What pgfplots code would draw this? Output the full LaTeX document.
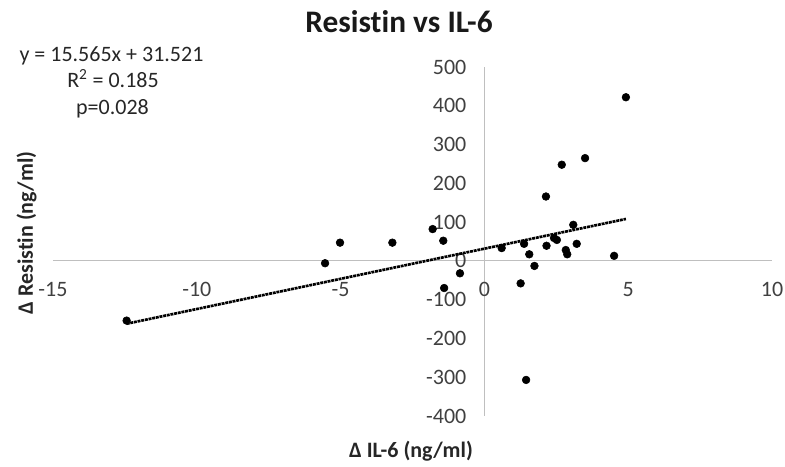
\documentclass[border=0pt]{standalone}
\usepackage{pgfplots}
\pgfplotsset{compat=1.18}
\usepackage{fontspec}
\setmainfont{Carlito}[Ligatures=NoCommon]
\definecolor{ticktext}{RGB}{64,64,64}
\definecolor{axisgray}{RGB}{191,191,191}
\begin{document}
\begin{tikzpicture}
% page = 785 x 467 px, 1 px = 0.75pt
\path[use as bounding box] (0,0) rectangle (588.75pt,350.25pt);
\begin{axis}[
  at={(39.75pt,38.25pt)}, anchor=south west,
  scale only axis, width=539.25pt, height=261.75pt,
  xmin=-15, xmax=10, ymin=-400, ymax=500,
  axis lines=middle,
  axis line style={-, draw=axisgray, line width=0.75pt},
  xtick={-15,-10,-5,0,5,10}, xticklabels={-15,-10,-5,0,5,10},
  ytick={-400,-300,-200,-100,0,100,200,300,400,500},
  yticklabels={-400,-300,-200,-100,0,100,200,300,400,500},
  major tick length=0pt,
  hide obscured x ticks=false, hide obscured y ticks=false,
  tick label style={font=\fontsize{16.5}{18}\selectfont, text=ticktext},
  xticklabel style={anchor=north, yshift=-12.5pt},
  yticklabel style={anchor=east, xshift=-10pt},
  clip=false,
]
\addplot[only marks, mark=*, mark size=2.9pt, black] coordinates {
  (-12.44,-154) (-5.54,-6) (-5.02,47) (-3.20,47) (-1.80,82) (-1.43,52)
  (-0.85,-32) (-1.40,-70) (0.60,33) (1.38,44) (1.56,17) (1.74,-13)
  (1.26,-58) (2.16,39) (2.42,59) (2.52,54) (2.83,28) (2.88,17)
  (3.09,93) (3.21,44) (4.51,13) (2.14,166) (2.69,248) (3.50,265)
  (4.92,422) (1.45,-307)
};
% linear trendline y = 15.565x + 31.521
\addplot[black, line width=2pt, dash pattern=on 2.2pt off 0.6pt] coordinates {
  (-12.44,-162.1) (4.92,108.1)
};
\end{axis}
\node[anchor=base, font=\fontsize{23.5}{28}\selectfont\bfseries, text=black!90] at (299.25pt,325.5pt) {Resistin vs IL-6};
\node[anchor=base, font=\fontsize{16.5}{18}\selectfont, text=black!85] at (83.6pt,303.75pt) {y = 15.565x + 31.521};
\node[anchor=base, font=\fontsize{16.5}{18}\selectfont, text=black!85] at (84.75pt,284.25pt) {R\textsuperscript{2} = 0.185};
\node[anchor=base, font=\fontsize{16.5}{18}\selectfont, text=black!85] at (84.4pt,264pt) {p=0.028};
\node[anchor=base, font=\fontsize{16.5}{18}\selectfont\bfseries, text=black!85] at (308.25pt,6.75pt) {Δ IL-6 (ng/ml)};
\node[anchor=base, rotate=90, font=\fontsize{16.5}{18}\selectfont\bfseries, text=black!85] at (24.75pt,175.5pt) {Δ Resistin (ng/ml)};
\end{tikzpicture}
\end{document}
